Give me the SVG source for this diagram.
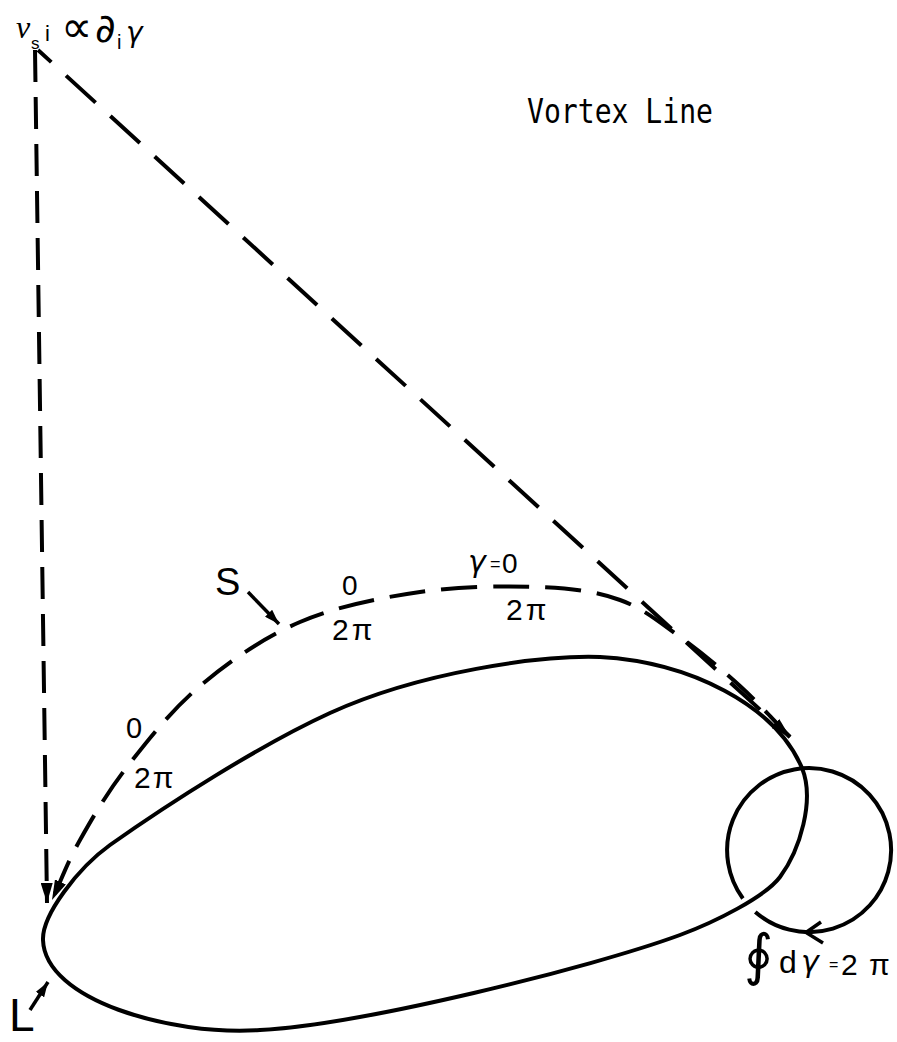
<svg xmlns="http://www.w3.org/2000/svg" width="897" height="1042" viewBox="0 0 897 1042">
<style>
.ln{fill:none;stroke:#000;stroke-width:4;stroke-linecap:butt}
.thin{fill:none;stroke:#000;stroke-width:3.5}
.t{font-family:"Liberation Sans",Arial,sans-serif;fill:#000}
.g{font-family:"DejaVu Sans",sans-serif;font-style:oblique;fill:#000}
.m{font-family:"DejaVu Sans",sans-serif;fill:#000}
</style>
<defs>
<marker id="ah" markerUnits="userSpaceOnUse" markerWidth="22" markerHeight="12" refX="20" refY="6" orient="auto"><path d="M0,0 L20,6 L0,12 z" fill="#000"/></marker>
<marker id="as" markerUnits="userSpaceOnUse" markerWidth="16" markerHeight="10" refX="15" refY="5" orient="auto"><path d="M0,0 L15,5 L0,10 z" fill="#000"/></marker>
</defs>
<rect width="897" height="1042" fill="#fff"/>
<g id="connectors">
<path id="vertical-dashed" class="ln" stroke-dasharray="32 15" d="M35,50 L47,903" marker-end="url(#ah)"/>
<path id="diagonal-dashed" class="ln" stroke-dasharray="40 20" stroke-dashoffset="22" d="M38,50 L790,737" marker-end="url(#ah)"/>
<path id="surface-S" class="ln" stroke-dasharray="36 16" d="M790,737 C773.3,720 758.3,702.7 740,686 C721.7,669.3 700,651.3 680,637 C660,622.7 643.3,608.3 620,600 C596.7,591.7 573.3,588.3 540,587 C506.7,585.7 460,586.2 420,592 C380,597.8 336.7,606.3 300,622 C263.3,637.7 228.8,661.8 200,686 C171.2,710.2 147,741.3 127,767 C107,792.7 92.5,817.8 80,840 C67.5,862.2 61.3,880 52,900" marker-end="url(#ah)"/>
<path id="S-pointer" class="thin" d="M248,592 L279,624" marker-end="url(#as)"/>
<path id="L-pointer" class="thin" d="M30,1010 L48,982" marker-end="url(#as)"/>
</g>
<g id="vortex-line">
<path class="ln" d="M43,940 C42,915 78,868 110,845 C168,804 260,745 330,713 C420,672 540,655 600,657 C690,662 775,705 802,768 C815,800 800,850 780,877 C765,897 715,922 680,935 C590,968 360,1025 260,1030 C170,1036 45,1000 43,940 Z"/>
</g>
<g id="circulation-loop">
<path class="ln" d="M742.9,898.5 A82,82 0 1 1 755.3,912"/>
<path class="thin" d="M821,922 L806,932.5 L823,943"/>
</g>
<g id="labels">
<text x="16" y="38" font-family="Liberation Serif, serif" font-style="italic" font-size="32">v</text>
<text class="t" x="31" y="49" font-size="17">s</text>
<text class="t" x="45" y="41" font-size="22">i</text>
<text class="m" x="61" y="42" font-size="44">∝</text>
<text class="m" x="95" y="42" font-size="40" font-style="italic">∂</text>
<text class="t" x="117" y="49" font-size="20">i</text>
<text class="g" x="126" y="42" font-size="28">γ</text>
<text x="527" y="123" font-family="DejaVu Sans Mono, monospace" font-size="33" textLength="186" lengthAdjust="spacingAndGlyphs">Vortex Line</text>
<text class="t" x="215" y="595" font-size="38">S</text>
<text class="t" x="342" y="595" font-size="28">0</text>
<text class="t" x="332" y="640" font-size="30" letter-spacing="3">2π</text>
<text class="g" x="468" y="572" font-size="30">γ</text>
<text class="t" x="490" y="570" font-size="18">=</text>
<text class="t" x="502" y="573" font-size="28">0</text>
<text class="t" x="506" y="620" font-size="30" letter-spacing="3">2π</text>
<text class="t" x="126" y="738" font-size="29">0</text>
<text class="t" x="134" y="788" font-size="30" letter-spacing="2">2π</text>
<text class="m" x="744" y="974" font-size="56">∮</text>
<text class="t" x="779" y="973" font-size="32">d</text>
<text class="g" x="801" y="972" font-size="30">γ</text>
<text class="t" x="829" y="970" font-size="16">=</text>
<text class="t" x="841" y="975" font-size="30">2</text>
<text class="t" x="869" y="975" font-size="30">π</text>
<text class="t" x="9" y="1031" font-size="46">L</text>
</g>
</svg>
